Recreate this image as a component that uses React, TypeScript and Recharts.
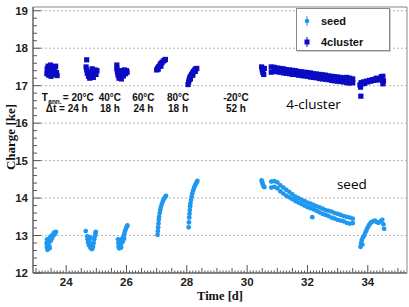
import React from 'react';
import { ScatterChart, Scatter, XAxis, YAxis, ReferenceLine, ReferenceArea, ReferenceDot } from 'recharts';

// time [d], charge [ke] -- one block per annealing step
const seed20C: [number, number][] = [
  [23.35, 12.8], [23.36, 12.7], [23.37, 12.9], [23.38, 12.62], [23.4, 12.78], [23.42, 12.88], [23.44, 12.72],
  [23.45, 12.66], [23.46, 12.95], [23.48, 12.85], [23.5, 12.98], [23.53, 12.92], [23.55, 13.02], [23.58, 13.0],
  [23.6, 13.08], [23.63, 13.05], [23.66, 13.1],
];
const seed40C: [number, number][] = [
  [24.65, 13.12], [24.7, 12.98], [24.71, 12.9], [24.73, 12.82], [24.75, 12.75], [24.77, 12.88], [24.79, 12.7],
  [24.8, 12.95], [24.82, 12.66], [24.84, 12.78], [24.86, 12.64], [24.89, 12.7], [24.91, 12.8], [24.93, 12.9],
  [24.95, 12.98], [24.97, 13.05], [24.98, 13.1],
];
const seed60C: [number, number][] = [
  [25.72, 12.9], [25.73, 12.8], [25.74, 12.7], [25.76, 12.66], [25.78, 12.85], [25.8, 12.75], [25.82, 12.68],
  [25.84, 12.8], [25.86, 12.92], [25.88, 12.85], [25.9, 12.98], [25.92, 12.92], [25.93, 13.05], [25.95, 13.12],
  [25.98, 13.18], [26.01, 13.24], [26.03, 13.27],
];
const seed80C: [number, number][] = [
  [27.03, 13.02], [27.04, 13.12], [27.05, 13.22], [27.06, 13.32], [27.07, 13.42], [27.08, 13.5], [27.1, 13.6],
  [27.12, 13.68], [27.14, 13.76], [27.17, 13.84], [27.2, 13.9], [27.23, 13.96], [27.26, 14.0], [27.29, 14.04],
  [27.31, 14.06],
];
const seed80Cb: [number, number][] = [
  [28.06, 13.22], [28.07, 13.35], [28.08, 13.48], [28.09, 13.58], [28.1, 13.68], [28.11, 13.78], [28.12, 13.86],
  [28.14, 13.95], [28.16, 14.04], [28.18, 14.12], [28.21, 14.2], [28.24, 14.27], [28.27, 14.33], [28.3, 14.38],
  [28.33, 14.42], [28.35, 14.46],
];
const seedCold: [number, number][] = [
  [30.48, 14.47], [30.5, 14.42], [30.52, 14.36], [30.55, 14.31], [30.57, 14.29],
  [30.8, 14.44], [30.8, 14.28], [30.9, 14.45], [30.9, 14.3], [31.0, 14.42], [31.0, 14.26], [31.1, 14.34], [31.1, 14.18],
  [31.2, 14.28], [31.2, 14.12], [31.3, 14.22], [31.3, 14.06], [31.4, 14.16], [31.4, 14.02], [31.5, 14.1], [31.5, 13.97],
  [31.6, 14.04], [31.6, 13.92], [31.7, 14.0], [31.7, 13.88], [31.8, 13.96], [31.8, 13.84], [31.9, 13.92], [31.9, 13.8],
  [32.0, 13.88], [32.0, 13.76], [32.1, 13.85], [32.1, 13.73], [32.16, 13.49], [32.2, 13.82], [32.2, 13.7],
  [32.3, 13.78], [32.3, 13.66], [32.4, 13.75], [32.4, 13.62], [32.5, 13.72], [32.5, 13.58], [32.6, 13.68], [32.6, 13.55],
  [32.7, 13.66], [32.7, 13.52], [32.8, 13.64], [32.8, 13.48], [32.9, 13.6], [32.9, 13.45], [33.0, 13.58], [33.0, 13.42],
  [33.1, 13.55], [33.1, 13.4], [33.2, 13.52], [33.2, 13.38], [33.3, 13.5], [33.3, 13.34], [33.4, 13.48], [33.4, 13.32],
  [33.5, 13.45], [33.5, 13.33],
];
const seedLast: [number, number][] = [
  [33.76, 12.7], [33.78, 12.8], [33.8, 12.88], [33.82, 12.76], [33.84, 12.95], [33.88, 13.0], [33.92, 13.08],
  [33.96, 13.15], [34.0, 13.22], [34.04, 13.28], [34.08, 13.32], [34.12, 13.36], [34.18, 13.38], [34.24, 13.4],
  [34.3, 13.36], [34.36, 13.34], [34.42, 13.38], [34.48, 13.42], [34.52, 13.3], [34.54, 13.18],
];

const cluster20C: [number, number][] = [
  [23.36, 17.32], [23.37, 17.45], [23.4, 17.52], [23.42, 17.28], [23.45, 17.4], [23.48, 17.55], [23.5, 17.25],
  [23.53, 17.36], [23.56, 17.48], [23.59, 17.3], [23.62, 17.42], [23.65, 17.52], [23.68, 17.35], [23.7, 17.27],
];
const cluster40C: [number, number][] = [
  [24.68, 17.69], [24.66, 17.5], [24.68, 17.42], [24.7, 17.33], [24.74, 17.25], [24.78, 17.2], [24.8, 17.36],
  [24.84, 17.28], [24.86, 17.45], [24.9, 17.22], [24.93, 17.34], [24.96, 17.42], [24.99, 17.3], [25.02, 17.4],
];
const cluster60C: [number, number][] = [
  [25.68, 17.55], [25.68, 17.45], [25.7, 17.36], [25.72, 17.28], [25.75, 17.2], [25.78, 17.4], [25.8, 17.3],
  [25.83, 17.18], [25.86, 17.35], [25.9, 17.26], [25.93, 17.42], [25.97, 17.32], [26.0, 17.4], [26.02, 17.36],
];
const cluster80C: [number, number][] = [
  [27.0, 17.42], [27.03, 17.46], [27.05, 17.44], [27.06, 17.5], [27.09, 17.52], [27.12, 17.57], [27.14, 17.52],
  [27.15, 17.6], [27.18, 17.62], [27.22, 17.66], [27.26, 17.68], [27.29, 17.7],
];
const cluster80Cb: [number, number][] = [
  [28.04, 17.03], [28.06, 17.1], [28.08, 17.16], [28.1, 17.22], [28.12, 17.18], [28.13, 17.26], [28.16, 17.3],
  [28.19, 17.34], [28.2, 17.28], [28.22, 17.38], [28.26, 17.42], [28.28, 17.38], [28.3, 17.45], [28.33, 17.46],
];
const clusterCold: [number, number][] = [
  [30.48, 17.5], [30.5, 17.42], [30.52, 17.35], [30.55, 17.3], [30.57, 17.46],
  [30.8, 17.5], [30.8, 17.36], [30.9, 17.49], [30.9, 17.38], [31.0, 17.47], [31.0, 17.37], [31.1, 17.46], [31.1, 17.36],
  [31.2, 17.45], [31.2, 17.34], [31.3, 17.43], [31.3, 17.33], [31.4, 17.42], [31.4, 17.32], [31.5, 17.41], [31.5, 17.3],
  [31.6, 17.4], [31.6, 17.3], [31.7, 17.38], [31.7, 17.28], [31.8, 17.37], [31.8, 17.27], [31.9, 17.36], [31.9, 17.26],
  [32.0, 17.35], [32.0, 17.25], [32.1, 17.34], [32.1, 17.23], [32.2, 17.32], [32.2, 17.22], [32.3, 17.31], [32.3, 17.21],
  [32.4, 17.3], [32.4, 17.19], [32.5, 17.29], [32.5, 17.18], [32.6, 17.28], [32.6, 17.17], [32.7, 17.26], [32.7, 17.16],
  [32.8, 17.25], [32.8, 17.14], [32.9, 17.24], [32.9, 17.13], [33.0, 17.23], [33.0, 17.12], [33.1, 17.22], [33.1, 17.11],
  [33.2, 17.21], [33.2, 17.1], [33.3, 17.22], [33.3, 17.08], [33.4, 17.2], [33.4, 17.07], [33.5, 17.18], [33.5, 17.08],
];
const clusterLast: [number, number][] = [
  [33.74, 17.02], [33.76, 16.96], [33.77, 16.72], [33.78, 17.08], [33.82, 17.05], [33.86, 17.1], [33.9, 17.06],
  [33.95, 17.12], [34.0, 17.1], [34.05, 17.14], [34.1, 17.12], [34.15, 17.16], [34.2, 17.14], [34.25, 17.18],
  [34.3, 17.2], [34.35, 17.15], [34.4, 17.19], [34.45, 17.24], [34.5, 17.25], [34.52, 17.12], [34.5, 17.05],
];

// annealing step labels: [time, charge, temperature, duration]
const stepLabels: [number, number, string, string][] = [
  [24.02, 16.68, '= 20°C', 'Δt = 24 h'],
  [25.45, 16.68, '40°C', '18 h'],
  [26.56, 16.68, '60°C', '24 h'],
  [27.71, 16.68, '80°C', '18 h'],
  [29.63, 16.68, '-20°C', '52 h'],
];

const X_DOMAIN: [number, number] = [22.9, 35.3];
const Y_DOMAIN: [number, number] = [12, 19.1];
const gridValues = [13, 14, 15, 16, 17, 18, 19];

const SEED = '#1e98ef';
const CLUSTER = '#0b0bc4';
const TICK_FONT = '"Liberation Sans", Arial, sans-serif';
const SERIF = '"Liberation Serif", serif';

const toPts = (arr: [number, number][]) => arr.map(([t, q]) => ({ t, q }));
const seedData = toPts([...seed20C, ...seed40C, ...seed60C, ...seed80C, ...seed80Cb, ...seedCold, ...seedLast]);
const clusterData = toPts([...cluster20C, ...cluster40C, ...cluster60C, ...cluster80C, ...cluster80Cb, ...clusterCold, ...clusterLast]);

const xTicks: number[] = [];
for (let i = 230; i <= 352; i++) xTicks.push(i / 10);
const yTicks: number[] = [];
for (let i = 60; i <= 95; i++) yTicks.push(Math.round(i * 20) / 100);

const near = (v: number, step: number) => Math.abs(v / step - Math.round(v / step)) < 1e-6;

const XTick = (props: any) => {
  const { x, y, payload } = props;
  const v = payload.value;
  const major = near(v, 2);
  const len = major ? 8 : near(v, 0.5) ? 5 : 2.5;
  return (
    <g>
      <line x1={x} x2={x} y1={y} y2={y - len} stroke="#555" />
      {major && (
        <text x={x} y={y + 13} textAnchor="middle" fontFamily={TICK_FONT} fontWeight="bold" fontSize={11.5} fill="#222">
          {v}
        </text>
      )}
    </g>
  );
};

const YTick = (props: any) => {
  const { x, y, payload } = props;
  const v = payload.value;
  const major = near(v, 1);
  return (
    <g>
      <line x1={x} x2={x + (major ? 8 : 4)} y1={y} y2={y} stroke="#555" />
      {major && (
        <text x={x - 5} y={y + 4} textAnchor="end" fontFamily={TICK_FONT} fontWeight="bold" fontSize={11.5} fill="#222">
          {v}
        </text>
      )}
    </g>
  );
};

const annFont = { fontFamily: TICK_FONT, fontWeight: 'bold' as const, fontSize: 10, fill: '#111' };

const StepLabel = ({ cx, cy, temp, dur, first }: any) => (
  <g>
    {first ? (
      <g>
        <text x={cx - 25} y={cy + 3.5} {...annFont}>T</text>
        <text x={cx - 18.5} y={cy + 6} {...annFont} fontSize={6.5}>ann.</text>
        <text x={cx - 4} y={cy + 3.5} {...annFont}>{temp}</text>
      </g>
    ) : (
      <text x={cx} y={cy + 3.5} textAnchor="middle" {...annFont}>{temp}</text>
    )}
    <text x={cx} y={cy + 14.5} textAnchor="middle" {...annFont}>{dur}</text>
  </g>
);

const Legend = () => (
  <div
    style={{
      position: 'absolute', left: 296, top: 8, width: 92, height: 41, background: '#fff',
      border: '1px solid #888', boxShadow: '1px 1px 0 #ccc', fontFamily: TICK_FONT, fontWeight: 'bold', fontSize: 11,
    }}
  >
    <svg width={92} height={41} style={{ position: 'absolute', left: 0, top: 0 }}>
      <line x1={10} x2={10} y1={7} y2={17} stroke={SEED} />
      <circle cx={10} cy={12} r={2.3} fill={SEED} />
      <text x={24} y={16} fill="#111">seed</text>
      <line x1={10} x2={10} y1={28} y2={38} stroke={CLUSTER} />
      <rect x={7.5} y={30.5} width={5} height={5} fill={CLUSTER} />
      <text x={24} y={37} fill="#111">4cluster</text>
    </svg>
  </div>
);

export default function App() {
  return (
    <div style={{ position: 'absolute', left: 0, top: 0, width: 409, height: 307, background: '#fff' }}>
      <ScatterChart width={409} height={307} margin={{ top: 7, right: 2, bottom: 4, left: 0 }}>
        <XAxis
          type="number" dataKey="t" domain={X_DOMAIN} allowDataOverflow ticks={xTicks} interval={0} height={30}
          tick={<XTick />} tickLine={false} tickSize={0} tickMargin={0} stroke="#555"
          label={{
            content: (p: any) => {
              const vb = p.viewBox;
              return (
                <text x={vb.x + vb.width / 2} y={vb.y + 27} textAnchor="middle"
                  fontFamily={SERIF} fontWeight="bold" fontSize={12.5} fill="#111">
                  Time [d]
                </text>
              );
            },
          }}
        />
        <YAxis
          type="number" dataKey="q" domain={Y_DOMAIN} allowDataOverflow ticks={yTicks} interval={0} width={33}
          tick={<YTick />} tickLine={false} tickSize={0} tickMargin={0} stroke="#555"
          label={{
            content: (p: any) => {
              const vb = p.viewBox;
              const cy = vb.y + vb.height / 2 - 3;
              return (
                <text x={10} y={cy} transform={`rotate(-90 10 ${cy})`} textAnchor="middle" dominantBaseline="central"
                  fontFamily={SERIF} fontWeight="bold" fontSize={13} fill="#111">
                  Charge [ke]
                </text>
              );
            },
          }}
        />
        {gridValues.map((g) => (
          <ReferenceLine key={g} y={g} stroke="#b5b5b5" strokeDasharray="2 2" />
        ))}
        <ReferenceArea x1={X_DOMAIN[0]} x2={X_DOMAIN[1]} y1={Y_DOMAIN[0]} y2={Y_DOMAIN[1]} fill="none" stroke="#888" fillOpacity={0} />
        <Scatter
          name="seed" data={seedData} isAnimationActive={false}
          shape={(p: any) => <circle cx={p.cx} cy={p.cy} r={2.4} fill={SEED} />}
        />
        <Scatter
          name="4cluster" data={clusterData} isAnimationActive={false}
          shape={(p: any) => <rect x={p.cx - 2.6} y={p.cy - 2.6} width={5.2} height={5.2} fill={CLUSTER} />}
        />
        {stepLabels.map(([t, q, temp, dur], i) => (
          <ReferenceDot
            key={i} x={t} y={q} r={0}
            shape={(p: any) => <StepLabel cx={p.cx} cy={p.cy} temp={temp} dur={dur} first={i === 0} />}
          />
        ))}
        <ReferenceDot x={32.2} y={16.52} r={0}
          shape={(p: any) => <text x={p.cx} y={p.cy + 5} textAnchor="middle" fontFamily='"Open Sans", sans-serif' fontSize={13.5} fill="#000">4-cluster</text>}
        />
        <ReferenceDot x={33.47} y={14.38} r={0}
          shape={(p: any) => <text x={p.cx} y={p.cy + 5} textAnchor="middle" fontFamily='"Open Sans", sans-serif' fontSize={13.5} fill="#000">seed</text>}
        />
      </ScatterChart>
      <Legend />
    </div>
  );
}
